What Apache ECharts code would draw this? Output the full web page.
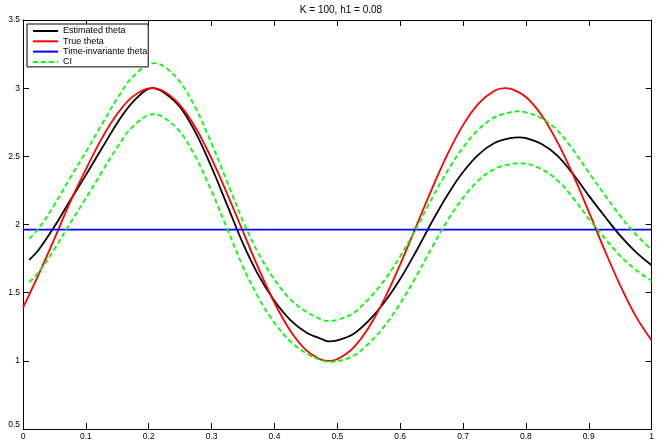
<!DOCTYPE html>
<html>
<head>
<meta charset="utf-8">
<script src="https://cdn.jsdelivr.net/npm/echarts@6/dist/echarts.min.js"></script>
<style>
html,body{margin:0;padding:0;background:#fff;}
#chart{width:657px;height:441px;}
</style>
</head>
<body>
<div id="chart"></div>
<script>
const titleText = 'K = 100, h1 = 0.08';
const seriesNames = ['Estimated theta', 'True theta', 'Time-invariante theta', 'CI'];

// Estimated theta (black)
const xEstimated = [0.01, 0.025, 0.05, 0.075, 0.1, 0.125, 0.15, 0.175, 0.206, 0.225, 0.25, 0.275, 0.3, 0.325, 0.35, 0.375, 0.4, 0.425, 0.45, 0.475, 0.487, 0.5, 0.525, 0.55, 0.575, 0.6, 0.625, 0.65, 0.675, 0.7, 0.725, 0.75, 0.775, 0.789, 0.8, 0.825, 0.85, 0.875, 0.9, 0.925, 0.95, 0.975, 1.0];
const estimated = [1.741, 1.815, 1.985, 2.176, 2.362, 2.555, 2.745, 2.900, 3.000, 2.965, 2.860, 2.670, 2.420, 2.140, 1.860, 1.625, 1.440, 1.300, 1.210, 1.160, 1.142, 1.150, 1.195, 1.295, 1.430, 1.600, 1.800, 2.015, 2.215, 2.385, 2.515, 2.598, 2.633, 2.639, 2.634, 2.590, 2.505, 2.370, 2.212, 2.062, 1.918, 1.797, 1.701];

// True theta (red)
const xTrue = [0, 0.025, 0.05, 0.075, 0.1, 0.125, 0.15, 0.175, 0.2045, 0.225, 0.25, 0.275, 0.3, 0.325, 0.35, 0.375, 0.4, 0.425, 0.45, 0.475, 0.4857, 0.5, 0.525, 0.55, 0.575, 0.6, 0.625, 0.65, 0.675, 0.7, 0.725, 0.75, 0.767, 0.775, 0.8, 0.825, 0.85, 0.875, 0.9, 0.925, 0.95, 0.975, 1.0];
const trueTheta = [1.390, 1.635, 1.895, 2.165, 2.405, 2.628, 2.812, 2.940, 3.000, 2.974, 2.874, 2.706, 2.483, 2.223, 1.948, 1.674, 1.426, 1.223, 1.080, 1.007, 1.000, 1.012, 1.093, 1.244, 1.454, 1.706, 1.981, 2.256, 2.512, 2.729, 2.889, 2.981, 3.000, 2.996, 2.935, 2.802, 2.606, 2.365, 2.094, 1.815, 1.554, 1.326, 1.149];

// Time-invariant theta (blue)
const xInvariant = [0, 1];
const timeInvariant = [1.963, 1.963];

// CI upper (green dashed)
const xUpper = [0.01, 0.025, 0.05, 0.075, 0.1, 0.125, 0.15, 0.175, 0.208, 0.225, 0.25, 0.275, 0.3, 0.325, 0.35, 0.375, 0.4, 0.425, 0.45, 0.475, 0.487, 0.5, 0.525, 0.55, 0.575, 0.6, 0.625, 0.65, 0.675, 0.7, 0.725, 0.75, 0.775, 0.787, 0.8, 0.825, 0.85, 0.875, 0.9, 0.925, 0.95, 0.975, 1.0];
const ciUpper = [1.895, 1.971, 2.145, 2.341, 2.532, 2.730, 2.925, 3.085, 3.183, 3.158, 3.045, 2.850, 2.595, 2.310, 2.025, 1.785, 1.596, 1.453, 1.362, 1.302, 1.293, 1.300, 1.348, 1.455, 1.592, 1.765, 1.968, 2.187, 2.391, 2.565, 2.699, 2.786, 2.823, 2.830, 2.823, 2.780, 2.690, 2.548, 2.382, 2.220, 2.063, 1.927, 1.814];

// CI lower (green dashed)
const xLower = [0.01, 0.025, 0.05, 0.075, 0.1, 0.125, 0.15, 0.175, 0.208, 0.225, 0.25, 0.275, 0.3, 0.325, 0.35, 0.375, 0.4, 0.425, 0.45, 0.475, 0.49, 0.5, 0.525, 0.55, 0.575, 0.6, 0.625, 0.65, 0.675, 0.7, 0.725, 0.75, 0.775, 0.789, 0.8, 0.825, 0.85, 0.875, 0.9, 0.925, 0.95, 0.975, 1.0];
const ciLower = [1.578, 1.651, 1.820, 2.008, 2.192, 2.381, 2.567, 2.720, 2.810, 2.782, 2.680, 2.492, 2.245, 1.968, 1.690, 1.460, 1.280, 1.144, 1.057, 1.004, 0.993, 0.997, 1.035, 1.127, 1.255, 1.420, 1.615, 1.827, 2.025, 2.195, 2.325, 2.408, 2.443, 2.449, 2.446, 2.406, 2.325, 2.195, 2.042, 1.902, 1.770, 1.667, 1.587];

const xTicks = {min: 0, max: 1, interval: 0.1};
const yTicks = {min: 0.5, max: 3.5, interval: 0.5};

const pairs = (xs, ys) => xs.map((x, i) => [x, ys[i]]);
const FONT = 'Liberation Sans, Arial, Helvetica, sans-serif';

const chart = echarts.init(document.getElementById('chart'), null, {renderer: 'canvas'});

const axisCommon = {
  type: 'value',
  axisLine: {show: true, onZero: false, lineStyle: {color: '#000', width: 1}},
  axisTick: {show: true, inside: true, length: 6, lineStyle: {color: '#000', width: 1}},
  splitLine: {show: false}
};

const SMOOTH = 0.35;
const LW = 1.8;

chart.setOption({
  animation: false,
  backgroundColor: '#fff',
  title: {
    text: titleText,
    left: 341,
    top: 5,
    padding: 0,
    textAlign: 'center',
    textStyle: {fontFamily: FONT, fontSize: 10, fontWeight: 'normal', color: '#000'}
  },
  grid: {left: 23, right: 1, top: 20, bottom: 11, containLabel: false},
  legend: {
    orient: 'vertical',
    left: 27,
    top: 24,
    padding: [2, 1, 0, 5],
    itemGap: 0.3,
    itemWidth: 25,
    itemHeight: 10,
    backgroundColor: '#fff',
    borderColor: '#000',
    borderWidth: 1,
    borderRadius: 0,
    data: seriesNames,
    itemStyle: {color: 'rgba(0,0,0,0)', borderWidth: 0, borderColor: 'rgba(0,0,0,0)'},
    textStyle: {fontFamily: FONT, fontSize: 9, color: '#000', lineHeight: 10}
  },
  xAxis: [
    Object.assign({}, axisCommon, xTicks, {
      position: 'bottom',
      axisLabel: {show: true, margin: 3, fontFamily: FONT, fontSize: 8.5, color: '#000'}
    }),
    Object.assign({}, axisCommon, xTicks, {
      position: 'top',
      axisLabel: {show: false}
    })
  ],
  yAxis: [
    Object.assign({}, axisCommon, yTicks, {
      position: 'left',
      axisLabel: {show: true, margin: 3, fontFamily: FONT, fontSize: 8.5, color: '#000', verticalAlignMinLabel: 'bottom'}
    }),
    Object.assign({}, axisCommon, yTicks, {
      position: 'right',
      axisLabel: {show: false}
    })
  ],
  series: [
    {
      name: seriesNames[0], type: 'line',
      data: pairs(xEstimated, estimated), smooth: SMOOTH, symbol: 'none',
      lineStyle: {color: '#000000', width: LW}, itemStyle: {color: '#000000'}
    },
    {
      name: seriesNames[1], type: 'line',
      data: pairs(xTrue, trueTheta), smooth: SMOOTH, symbol: 'none',
      lineStyle: {color: '#ff0000', width: LW}, itemStyle: {color: '#ff0000'}
    },
    {
      name: seriesNames[2], type: 'line',
      data: pairs(xInvariant, timeInvariant), symbol: 'none',
      lineStyle: {color: '#0000ff', width: LW}, itemStyle: {color: '#0000ff'}
    },
    {
      name: seriesNames[3], type: 'line',
      data: pairs(xUpper, ciUpper), smooth: SMOOTH, symbol: 'none',
      lineStyle: {color: '#00ff00', width: LW, type: [5, 3]}, itemStyle: {color: '#00ff00'}
    },
    {
      name: seriesNames[3], type: 'line',
      data: pairs(xLower, ciLower), smooth: SMOOTH, symbol: 'none',
      lineStyle: {color: '#00ff00', width: LW, type: [5, 3]}, itemStyle: {color: '#00ff00'}
    }
  ]
});
</script>
</body>
</html>
